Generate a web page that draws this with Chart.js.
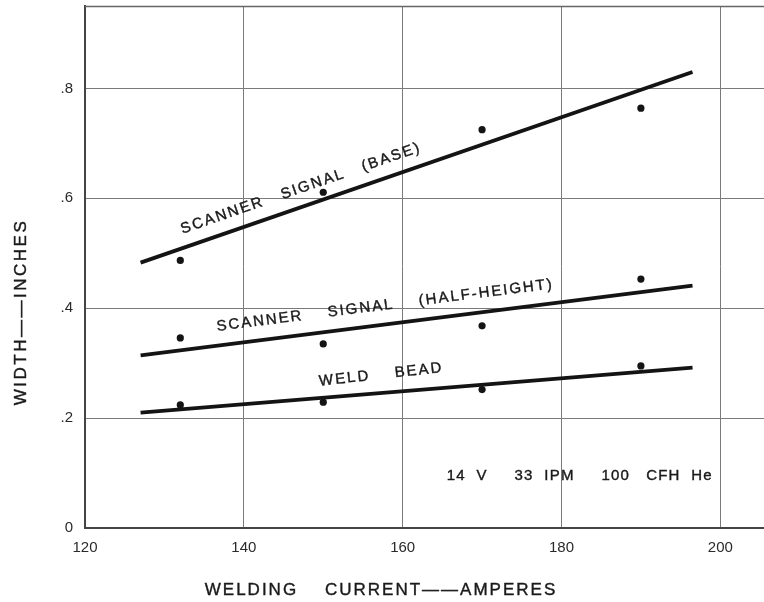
<!DOCTYPE html>
<html>
<head>
<meta charset="utf-8">
<script src="https://cdn.jsdelivr.net/npm/chart.js@4.4.1/dist/chart.umd.min.js"></script>
<style>
  html, body { margin: 0; padding: 0; background: #fff; overflow: hidden; }
  #weld-chart { display: block; }
</style>
</head>
<body>
<!-- a few px wider than the window: the frame runs off the right edge -->
<canvas id="weld-chart" width="768" height="602"></canvas>
<script>
/*---- WIDTH VS WELDING CURRENT ----*/
// MEASURED POINTS
const currents = [132, 150, 170, 190];
const baseWidths = [0.487, 0.611, 0.725, 0.764];
const halfWidths = [0.346, 0.335, 0.368, 0.453];
const beadWidths = [0.224, 0.229, 0.252, 0.295];

// FITTED LINES (END POINTS)
const fitCurrents = [127, 196.5];
const baseFit = [0.483, 0.830];
const halfFit = [0.314, 0.441];
const beadFit = [0.210, 0.292];

// AXIS TICKS
const xTickValues = [120, 140, 160, 180, 200];
const yTickValues = [0, 0.2, 0.4, 0.6, 0.8];
const yTickLabels = ['0', '.2', '.4', '.6', '.8'];

const INK = '#141414';
const TEXT_FONT = '"Liberation Sans", Arial, sans-serif';

const toPoints = (xs, ys) => xs.map((x, i) => ({ x: x, y: ys[i] }));

// text written along the curves, placed in data units
const curveLabels = [
    { text: 'SCANNER   SIGNAL   (BASE)', x: 147.2, y: 0.618, fit: baseFit },
    { text: 'SCANNER    SIGNAL    (HALF-HEIGHT)', x: 157.8, y: 0.405, fit: halfFit },
    { text: 'WELD    BEAD', x: 157.3, y: 0.279, fit: beadFit, tilt: -6.3 }
];

function drawText(ctx, text, x, y, angle, size, spacing) {
    ctx.save();
    ctx.translate(x, y);
    ctx.rotate(angle);
    ctx.font = `${size}px ${TEXT_FONT}`;
    ctx.letterSpacing = spacing + 'px';
    ctx.textAlign = 'center';
    ctx.textBaseline = 'middle';
    ctx.fillStyle = '#1a1a1a';
    ctx.strokeStyle = '#1a1a1a';
    ctx.lineWidth = 0.4;
    ctx.fillText(text, 0, 0);
    ctx.strokeText(text, 0, 0);
    ctx.restore();
}

// no extra room around the scales
const noPadding = scale => {
    scale.paddingTop = 0;
    scale.paddingBottom = 0;
    scale.paddingLeft = 0;
    scale.paddingRight = 0;
};

const labelPlugin = {
    id: 'weldLabels',
    beforeDatasetsDraw(chart) {
        // top frame line
        const { ctx, chartArea } = chart;
        ctx.save();
        ctx.strokeStyle = '#666';
        ctx.lineWidth = 1.5;
        ctx.beginPath();
        ctx.moveTo(chartArea.left, chartArea.top + 0.5);
        ctx.lineTo(chartArea.right, chartArea.top + 0.5);
        ctx.stroke();
        ctx.restore();
    },
    afterDatasetsDraw(chart) {
        const { ctx } = chart;
        const xs = chart.scales.x;
        const ys = chart.scales.y;

        curveLabels.forEach(lbl => {
            let angle;
            if (lbl.tilt !== undefined) {
                angle = lbl.tilt * Math.PI / 180;
            } else {
                const dx = xs.getPixelForValue(fitCurrents[1]) - xs.getPixelForValue(fitCurrents[0]);
                const dy = ys.getPixelForValue(lbl.fit[1]) - ys.getPixelForValue(lbl.fit[0]);
                angle = Math.atan2(dy, dx);
            }
            drawText(ctx, lbl.text, xs.getPixelForValue(lbl.x), ys.getPixelForValue(lbl.y), angle, 15, 2);
        });

        // run conditions
        drawText(ctx, '14  V     33  IPM     100   CFH  He', xs.getPixelForValue(182.3), ys.getPixelForValue(0.095), 0, 15, 1.2);

        // axis titles
        drawText(ctx, 'WELDING    CURRENT\u2014\u2014AMPERES', 381, 590, 0, 17, 2);
        drawText(ctx, 'WIDTH\u2014\u2014INCHES', 21, 312, -Math.PI / 2, 17, 2.5);
    }
};

const ctx = document.getElementById('weld-chart');
const weldChart = new Chart(ctx, {
    type: 'scatter',
    data: {
        datasets: [
            { data: toPoints(currents, baseWidths) },
            { data: toPoints(currents, halfWidths) },
            { data: toPoints(currents, beadWidths) },
            { data: toPoints(fitCurrents, baseFit), showLine: true },
            { data: toPoints(fitCurrents, halfFit), showLine: true },
            { data: toPoints(fitCurrents, beadFit), showLine: true }
        ].map(ds => Object.assign({
            pointRadius: ds.showLine ? 0 : 3.6,
            pointBackgroundColor: INK,
            pointBorderWidth: 0,
            borderColor: INK,
            borderWidth: 3.8,
            borderCapStyle: 'butt'
        }, ds))
    },
    options: {
        responsive: false,
        devicePixelRatio: 1,
        animation: false,
        layout: { padding: { top: 6, right: 0, left: 0, bottom: 0 } },
        plugins: {
            legend: { display: false },
            tooltip: { enabled: false }
        },
        scales: {
            x: {
                type: 'linear',
                min: 120,
                max: 205.5,
                afterFit: scale => { scale.height = 74; noPadding(scale); },
                afterBuildTicks: scale => { scale.ticks = xTickValues.map(v => ({ value: v })); },
                grid: { color: '#7a7a7a', lineWidth: 1, drawTicks: false },
                border: { color: '#444', width: 2 },
                ticks: {
                    padding: 11,
                    color: '#2a2a2a',
                    font: { family: TEXT_FONT, size: 15 },
                    callback: v => String(v)
                }
            },
            y: {
                type: 'linear',
                min: 0,
                max: 0.95,
                afterFit: scale => { scale.width = 85; noPadding(scale); },
                afterBuildTicks: scale => { scale.ticks = yTickValues.map(v => ({ value: v })); },
                grid: { color: '#7a7a7a', lineWidth: 1, drawTicks: false },
                border: { color: '#444', width: 2 },
                ticks: {
                    padding: 12,
                    color: '#2a2a2a',
                    font: { family: TEXT_FONT, size: 15 },
                    callback: v => yTickLabels[yTickValues.indexOf(v)]
                }
            }
        }
    },
    plugins: [labelPlugin]
});
</script>
</body>
</html>
